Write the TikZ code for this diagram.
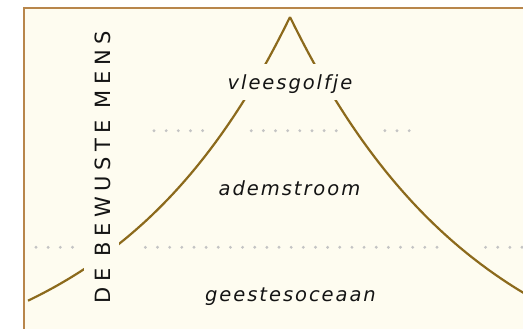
\documentclass[tikz,border=0pt]{standalone}
\usepackage{fontspec}
\newfontfamily\lblfont{DejaVu Sans}[LetterSpace=10]
\newfontfamily\vertfont{DejaVu Sans}[LetterSpace=26]
\definecolor{bgc}{HTML}{FEFCF0}
\definecolor{framec}{HTML}{B8864B}
\definecolor{curvec}{HTML}{8C6A1C}
\definecolor{dotc}{HTML}{C4C4C4}
\definecolor{txtc}{HTML}{141414}
\tikzset{
  lbl/.style={font=\lblfont\itshape\fontsize{19.5}{22}\selectfont, text=txtc, anchor=base, inner ysep=0pt, inner xsep=2pt},
  vertlbl/.style={font=\vertfont\fontsize{21}{22}\selectfont, text=txtc, rotate=90, anchor=base west, inner sep=0pt, fill=bgc},
  curveline/.style={draw=curvec, line width=2.2pt},
  dotmark/.style={fill=dotc}
}
\begin{document}
\begin{tikzpicture}[x=1pt,y=-1pt]
\useasboundingbox (0,0) rectangle (523,329);
\fill[white] (0,0) rectangle (523,329);
\fill[bgc] (24,8) rectangle (545,345);
% dotted lines
\foreach \k in {0,...,3,9,10,...,33,37,38,...,41}
  \fill[dotmark] ({36+12.15*\k},247.3) circle (1.6);
\foreach \k in {0,...,4,8,9,...,15,19,20,21}
  \fill[dotmark] ({154+12.15*\k},130.7) circle (1.6);
% curve
\draw[curveline] plot[domain=0:262, samples=120] ({290-\x},{17+370*(1-exp(-\x/180))});
\draw[curveline] plot[domain=0:245, samples=120] ({290+\x},{17+390*(1-exp(-\x/190))});
% labels
\node[lbl, fill=bgc, text height=25.3pt, text depth=10.7pt] (vlees) at (290,89.3) {vleesgolfje};
\node[lbl] (adem) at (289.5,195.3) {ademstroom};
\node[lbl] (geest) at (290.5,301) {geestesoceaan};
\node[vertlbl, text height=27pt, text depth=8pt] (mens) at (110.5,303.5) {DE BEWUSTE MENS};
% frame
\draw[framec, line width=1.5pt] (24,345) -- (24,8) -- (545,8);
\end{tikzpicture}
\end{document}
